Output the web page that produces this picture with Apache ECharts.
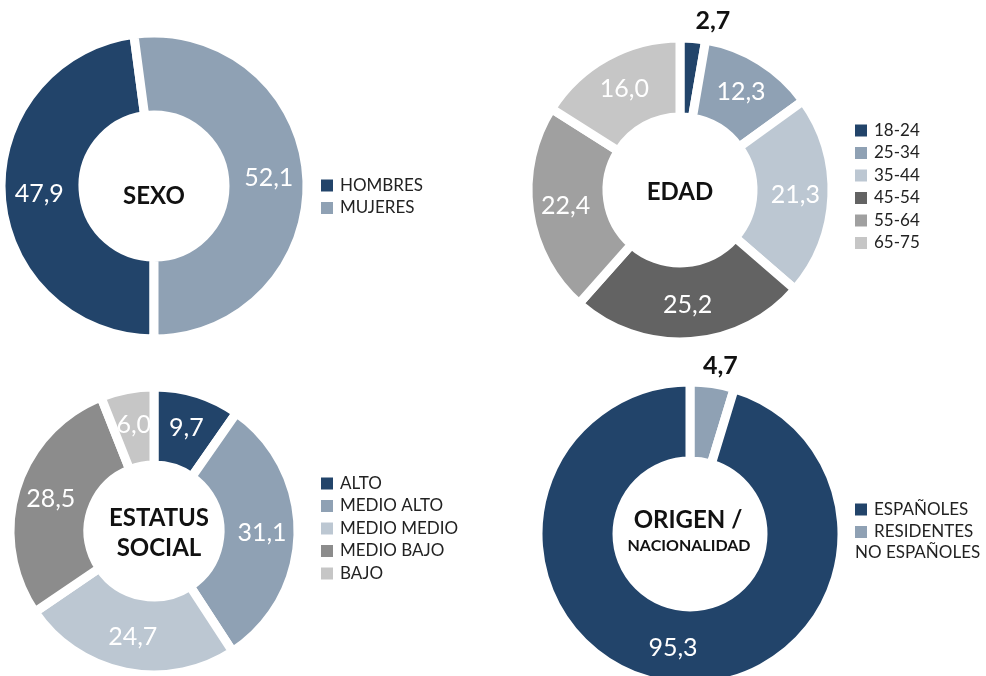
<!DOCTYPE html>
<html><head><meta charset="utf-8">
<script src="https://cdn.jsdelivr.net/npm/echarts@6/dist/echarts.min.js"></script>
<style>html,body{margin:0;padding:0;background:#fff}#c{width:986px;height:676px}</style>
</head><body><div id="c"></div>
<script>
const sexoCategories = ['HOMBRES', 'MUJERES'];
const sexoValues = [47.9, 52.1];
const sexoColors = ['#22446a', '#8fa1b4'];

const edadCategories = ['18-24', '25-34', '35-44', '45-54', '55-64', '65-75'];
const edadValues = [2.7, 12.3, 21.3, 25.2, 22.4, 16.0];
const edadColors = ['#22446a', '#8fa1b4', '#bcc7d2', '#636363', '#a0a0a0', '#c6c6c6'];

const estatusCategories = ['ALTO', 'MEDIO ALTO', 'MEDIO MEDIO', 'MEDIO BAJO', 'BAJO'];
const estatusValues = [9.7, 31.1, 24.7, 28.5, 6.0];
const estatusColors = ['#22446a', '#8fa1b4', '#bcc7d2', '#8c8c8c', '#c6c6c6'];

// drawn clockwise from the top: RESIDENTES first, legend lists ESPAÑOLES first
const origenCategories = ['RESIDENTES', 'ESPAÑOLES'];
const origenValues = [4.7, 95.3];
const origenColors = ['#8fa1b4', '#22446a'];
const origenLegendOrder = ['ESPAÑOLES', 'RESIDENTES'];

const FONT = 'Lato';
const fmt = p => p.value.toFixed(1).replace('.', ',');

function buildData(cats, vals, cols, outsideIdx, lineLen, lineLen2) {
  return cats.map((c, i) => {
    const d = { name: c, value: vals[i], itemStyle: { color: cols[i] } };
    if (outsideIdx === i) {
      d.label = { position: 'outside', color: '#111', fontWeight: 'bold', distanceToLabelLine: 0 };
      d.labelLine = { show: false, length: lineLen, length2: lineLen2 };
    }
    return d;
  });
}

function pie(center, radius, startAngle, data) {
  return {
    type: 'pie', center: center, radius: radius, startAngle: startAngle, clockwise: true,
    avoidLabelOverlap: false, animation: false,
    itemStyle: { borderColor: '#fff', borderWidth: 9 },
    label: { show: true, position: 'inside', formatter: fmt, color: '#fff', fontSize: 25, fontFamily: FONT },
    labelLine: { show: false },
    emphasis: { disabled: true },
    data: data
  };
}

function legend(left, top, data) {
  return {
    orient: 'vertical', left: left, top: top, data: data, icon: 'rect',
    itemWidth: 12, itemHeight: 12, itemGap: 5.5, selectedMode: false, padding: 0,
    itemStyle: { borderWidth: 0 },
    textStyle: { fontSize: 17, color: '#222', fontFamily: FONT, padding: [0, 0, 0, 2] }
  };
}

const chart = echarts.init(document.getElementById('c'));
chart.setOption({
  backgroundColor: '#fff',
  animation: false,
  legend: [
    legend(321, 177, sexoCategories),
    legend(855, 122, edadCategories),
    legend(321, 475, estatusCategories),
    legend(855, 501, origenLegendOrder)
  ],
  series: [
    pie([154, 186], [71, 153], -90, buildData(sexoCategories, sexoValues, sexoColors)),
    pie([680, 190], [73, 152], 90, buildData(edadCategories, edadValues, edadColors, 0, 18, 1)),
    pie([154, 531], [66, 144], 90, buildData(estatusCategories, estatusValues, estatusColors)),
    pie([690, 534], [73, 152], 90, buildData(origenCategories, origenValues, origenColors, 0, 18, -12))
  ],
  graphic: [
    { type: 'text', x: 154, y: 196, style: { text: 'SEXO', fill: '#111', font: 'bold 24px ' + FONT, align: 'center', verticalAlign: 'middle' } },
    { type: 'text', x: 680, y: 192, style: { text: 'EDAD', fill: '#111', font: 'bold 24px ' + FONT, align: 'center', verticalAlign: 'middle' } },
    { type: 'text', x: 159, y: 533, style: { text: 'ESTATUS\nSOCIAL', fill: '#111', font: 'bold 24px ' + FONT, lineHeight: 30, align: 'center', verticalAlign: 'middle' } },
    { type: 'text', x: 688, y: 520, style: { text: 'ORIGEN /', fill: '#111', font: 'bold 24px ' + FONT, align: 'center', verticalAlign: 'middle' } },
    { type: 'text', x: 689, y: 546, style: { text: 'NACIONALIDAD', fill: '#111', font: 'bold 16px ' + FONT, align: 'center', verticalAlign: 'middle' } },
    { type: 'text', x: 855, y: 553, style: { text: 'NO ESPAÑOLES', fill: '#222', font: '17px ' + FONT, align: 'left', verticalAlign: 'middle' } }
  ]
});
</script>
</body></html>
